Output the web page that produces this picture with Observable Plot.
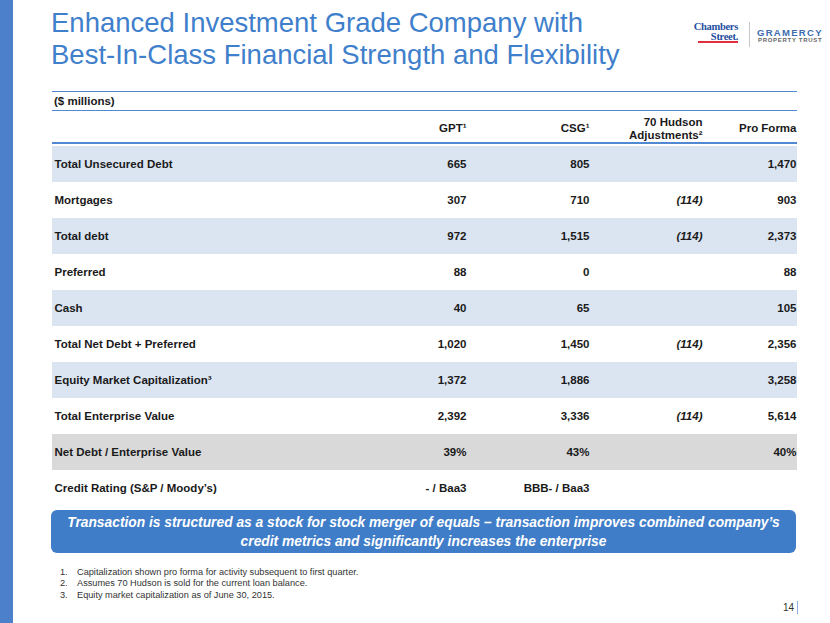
<!DOCTYPE html>
<html>
<head>
<meta charset="utf-8">
<script src="https://cdn.jsdelivr.net/npm/d3@7"></script>
<script src="https://cdn.jsdelivr.net/npm/@observablehq/plot@0.6"></script>
<style>
  html, body { margin: 0; padding: 0; background: #fff; }
  body { width: 830px; height: 623px; position: relative; overflow: hidden;
         font-family: "Liberation Sans", Arial, sans-serif; }
  #strip { position: absolute; left: 0; top: 0; width: 13px; height: 623px; background: #4c80cb; }
  #title { position: absolute; left: 51px; top: 7px; font-size: 27.5px; line-height: 32px; color: #3f7fcb; white-space: nowrap; }
  #cs { position: absolute; left: 690px; top: 22px; width: 48px; text-align: right; white-space: nowrap;
        font: bold 10.5px "Liberation Serif", serif; color: #1f4ea0; line-height: 9.5px; letter-spacing: -0.3px; }
  #csbar { position: absolute; left: 698px; top: 41px; width: 40px; height: 2px; background: #e0303f; }
  #divider { position: absolute; left: 749px; top: 22px; width: 1px; height: 25px; background: #c8c8c8; }
  #gram { position: absolute; left: 757px; top: 26.5px; white-space: nowrap; font: bold 9.5px "Liberation Sans", Arial, sans-serif; color: #3d6cb0; letter-spacing: 1.3px; }
  #gram2 { position: absolute; left: 758px; top: 36.5px; white-space: nowrap; font: bold 6px "Liberation Sans", Arial, sans-serif; color: #666; letter-spacing: 0.7px; }
  #unit { position: absolute; left: 52px; top: 91px; width: 745px; height: 18px;
          border-top: 1.5px solid #5089d2; border-bottom: 1.5px solid #5089d2;
          font-weight: bold; font-size: 11.5px; line-height: 18px; color: #1a1a1a; }
  #unit span { margin-left: 2px; }
  #hline { position: absolute; left: 52px; top: 142px; width: 745px; height: 1.5px; background: #5089d2; z-index: 2; }
  #chart { position: absolute; left: 0; top: 112px; }
  #banner { position: absolute; left: 51px; top: 510px; width: 745px; height: 43px; border-radius: 6px;
            background: #3f7dc9; color: #fff; font-weight: bold; font-style: italic; font-size: 13.8px;
            line-height: 19px; text-align: center; display: flex; align-items: center; justify-content: center; white-space: nowrap; }
  #notes { position: absolute; left: 60px; top: 567px; font-size: 9.2px; line-height: 11.3px; color: #333; white-space: nowrap; }
  #notes div span { display: inline-block; width: 17px; }
  #page { position: absolute; left: 783px; top: 602px; font-size: 10px; color: #333; }
  #pagebar { position: absolute; left: 797px; top: 601px; width: 1px; height: 13px; background: #8fb0de; }
</style>
</head>
<body>
<div id="strip"></div>
<div id="title">Enhanced Investment Grade Company with<br>Best-In-Class Financial Strength and Flexibility</div>
<div id="cs">Chambers<br>Street.</div>
<div id="csbar"></div>
<div id="divider"></div>
<div id="gram">GRAMERCY</div>
<div id="gram2">PROPERTY TRUST</div>
<div id="unit"><span>($ millions)</span></div>
<div id="chart"></div>
<div id="hline"></div>
<div id="banner"><div>Transaction is structured as a stock for stock merger of equals – transaction improves combined company’s<br>credit metrics and significantly increases the enterprise</div></div>
<div id="notes"></div>
<div id="page">14</div>
<div id="pagebar"></div>
<script>
// ---- data ----
const rowLabels = [
  "Total Unsecured Debt",
  "Mortgages",
  "Total debt",
  "Preferred",
  "Cash",
  "Total Net Debt + Preferred",
  "Equity Market Capitalization³",
  "Total Enterprise Value",
  "Net Debt / Enterprise Value",
  "Credit Rating (S&P / Moody’s)"
];
const columnLabels = ["GPT¹", "CSG¹", "70 Hudson\nAdjustments²", "Pro Forma"];
const gpt      = [665, 307, 972, 88, 40, 1020, 1372, 2392, 0.39, "- / Baa3"];
const csg      = [805, 710, 1515, 0, 65, 1450, 1886, 3336, 0.43, "BBB- / Baa3"];
const hudson   = [null, -114, -114, null, null, -114, null, -114, null, null];
const proForma = [1470, 903, 2373, 88, 105, 2356, 3258, 5614, 0.40, null];
const blueRows = ["Total Unsecured Debt", "Total debt", "Cash", "Equity Market Capitalization³"];
const grayRows = ["Net Debt / Enterprise Value"];
const ratioRow = "Net Debt / Enterprise Value";
const footnotes = [
  "Capitalization shown pro forma for activity subsequent to first quarter.",
  "Assumes 70 Hudson is sold for the current loan balance.",
  "Equity market capitalization as of June 30, 2015."
];

// ---- build cells ----
const fmtN = d3.format(",");
const fmtP = d3.format(".0%");
const columns = [gpt, csg, hudson, proForma];
const cells = [];
rowLabels.forEach((row, i) => {
  columns.forEach((arr, j) => {
    const v = arr[i];
    if (v == null) return;
    let text;
    if (typeof v === "string") text = v;
    else if (row === ratioRow) text = fmtP(v);
    else if (v < 0) text = `(${fmtN(-v)})`;
    else text = fmtN(v);
    cells.push({row, col: j + 1, text, negative: typeof v === "number" && v < 0});
  });
});

const textStyle = {fontWeight: "bold", fill: "#1a1a1a", fontSize: 11.5};

const chart = Plot.plot({
  width: 830,
  height: 396,
  marginTop: 31,
  marginBottom: 0,
  marginLeft: 52,
  marginRight: 33,
  style: {fontFamily: "'Liberation Sans', Arial, sans-serif", background: "transparent", overflow: "visible"},
  x: {type: "linear", domain: [0, 1, 2, 3, 4], range: [52, 466, 589, 702, 796], axis: null},
  y: {type: "band", domain: rowLabels, padding: 0, axis: null},
  marks: [
    Plot.cell(rowLabels.filter(r => blueRows.includes(r)), {y: d => d, fill: "#dbe5f2"}),
    Plot.cell(rowLabels.filter(r => grayRows.includes(r)), {y: d => d, fill: "#d9d9d9"}),
    Plot.text(columnLabels, {x: (d, i) => i + 1, frameAnchor: "top", lineAnchor: "middle", dy: -15.5, textAnchor: "end", lineHeight: 1.2, ...textStyle}),
    Plot.text(rowLabels, {x: 0, y: d => d, dx: 2, textAnchor: "start", ...textStyle}),
    Plot.text(cells.filter(c => !c.negative), {x: "col", y: "row", text: "text", textAnchor: "end", ...textStyle}),
    Plot.text(cells.filter(c => c.negative), {x: "col", y: "row", text: "text", textAnchor: "end", fontStyle: "italic", ...textStyle})
  ]
});
document.getElementById("chart").appendChild(chart);

const notes = document.getElementById("notes");
footnotes.forEach((t, i) => {
  const div = document.createElement("div");
  div.innerHTML = `<span>${i + 1}.</span>${t}`;
  notes.appendChild(div);
});
</script>
</body>
</html>
